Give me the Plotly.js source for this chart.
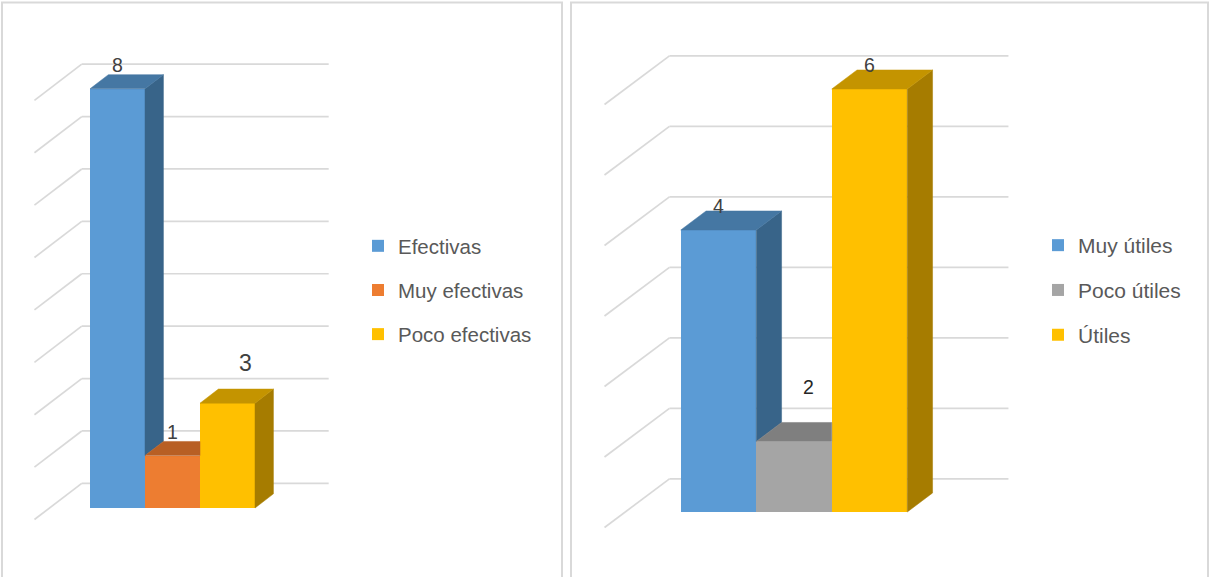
<!DOCTYPE html>
<html>
<head>
<meta charset="utf-8">
<script src="https://cdn.plot.ly/plotly-3.0.1.min.js"></script>
<style>
  html, body { margin: 0; padding: 0; background: #ffffff; }
  #chart { width: 1212px; height: 577px; }
</style>
</head>
<body>
<div id="chart"></div>
<script>
// ---------- data ----------
const leftCategories = ["Efectivas", "Muy efectivas", "Poco efectivas"];
const leftValues = [8, 1, 2];
const leftLabels = ["8", "1", "3"];

const rightCategories = ["Muy útiles", "Poco útiles", "Útiles"];
const rightValues = [4, 1, 6];
const rightLabels = ["4", "2", "6"];

// ---------- styles ----------
const leftColors = {
  front: ["#5B9BD5", "#ED7D31", "#FFC000"],
  top:   ["#4577A3", "#B85F24", "#C49400"],
  side:  ["#386489", "#A0521F", "#A67C00"]
};
const rightColors = {
  front: ["#5B9BD5", "#A5A5A5", "#FFC000"],
  top:   ["#4577A3", "#7F7F7F", "#C49400"],
  side:  ["#386489", "#6E6E6E", "#A67C00"]
};
// label nudges in px [xshift, extra yshift, font size, color]
const leftLabelStyle = [[0, 0, 19.5, "#404040"], [0, 0, 19.5, "#404040"], [18, 16, 23, "#404040"]];
const rightLabelStyle = [[0, 0, 19.5, "#404040"], [14, 31, 19.5, "#262626"], [0, 0, 19.5, "#404040"]];

// 3-D geometry in axis units
const DEPTH = { dx: 0.335, dy: 0.27 };
const WALL = { x0: -0.65, x1: 3.84, dy: 0.47 };
const FLOOR_FRONT = { x: -1.51, dy: -0.22 };

const traces = [];
const shapes = [];
const annotations = [];

function buildChart(cats, vals, labels, colors, labelStyle, xref, yref, legendId) {
  const n = vals.length;
  // front faces (real bars)
  for (let i = 0; i < n; i++) {
    traces.push({
      type: "bar", x: [i], y: [vals[i]], width: [1], name: cats[i],
      marker: { color: colors.front[i], line: { width: 0 } },
      xaxis: xref, yaxis: yref, legend: legendId, legendgroup: legendId + "_" + i,
      hoverinfo: "skip"
    });
  }
  // side and top faces
  for (let i = 0; i < n; i++) {
    const v = vals[i];
    const right = i + 0.5, left = i - 0.5;
    const base = (i + 1 < n) ? vals[i + 1] : 0;
    if (base < v) {
      traces.push({
        type: "scatter", mode: "lines", fill: "toself",
        x: [right, right + DEPTH.dx, right + DEPTH.dx, right, right],
        y: [base, base + DEPTH.dy, v + DEPTH.dy, v, base],
        fillcolor: colors.side[i], line: { color: colors.side[i], width: 0.5 },
        xaxis: xref, yaxis: yref, showlegend: false, hoverinfo: "skip"
      });
    }
    const clip = (i + 1 < n) && vals[i + 1] > v;
    const tx = clip
      ? [left, right, right, left + DEPTH.dx, left]
      : [left, right, right + DEPTH.dx, left + DEPTH.dx, left];
    const ty = [v, v, v + DEPTH.dy, v + DEPTH.dy, v];
    traces.push({
      type: "scatter", mode: "lines", fill: "toself", x: tx, y: ty,
      fillcolor: colors.top[i], line: { color: colors.top[i], width: 0.5 },
      xaxis: xref, yaxis: yref, showlegend: false, hoverinfo: "skip"
    });
    annotations.push({
      xref: xref, yref: yref, x: i, y: v, text: labels[i],
      showarrow: false, xanchor: "center", yanchor: "middle",
      xshift: labelStyle[i][0], yshift: 24 + labelStyle[i][1],
      font: { family: "Liberation Sans, Arial, sans-serif", size: labelStyle[i][2], color: labelStyle[i][3] }
    });
  }
  // back wall gridlines + side wall diagonals
  const maxV = Math.max.apply(null, vals);
  for (let t = 0; t <= maxV; t++) {
    const ln = { color: "#D9D9D9", width: 1.7 };
    shapes.push({ type: "line", xref: xref, yref: yref, layer: "below",
      x0: WALL.x0, x1: WALL.x1, y0: t + WALL.dy, y1: t + WALL.dy, line: ln });
    shapes.push({ type: "line", xref: xref, yref: yref, layer: "below",
      x0: WALL.x0, x1: FLOOR_FRONT.x, y0: t + WALL.dy, y1: t + FLOOR_FRONT.dy, line: ln });
  }
}

buildChart(leftCategories, leftValues, leftLabels, leftColors, leftLabelStyle, "x", "y", "legend");
buildChart(rightCategories, rightValues, rightLabels, rightColors, rightLabelStyle, "x2", "y2", "legend2");

// panel frames
const W = 1212, H = 577;
shapes.push({ type: "rect", xref: "paper", yref: "paper", layer: "below",
  x0: 2 / W, x1: 562 / W, y0: -0.02, y1: 1 - 2.5 / H, line: { color: "#D9D9D9", width: 2 } });
shapes.push({ type: "rect", xref: "paper", yref: "paper", layer: "below",
  x0: 571 / W, x1: 1208 / W, y0: -0.02, y1: 1 - 2.5 / H, line: { color: "#D9D9D9", width: 2 } });

const hidden = { visible: false, fixedrange: true };
const layout = {
  width: W, height: H,
  margin: { l: 0, r: 0, t: 0, b: 0, pad: 0 },
  paper_bgcolor: "#ffffff", plot_bgcolor: "rgba(0,0,0,0)",
  barmode: "overlay", bargap: 0,
  showlegend: true,
  xaxis: Object.assign({ domain: [2 / W, 562 / W], range: [-2.1, 8.082], anchor: "y" }, hidden),
  yaxis: Object.assign({ domain: [0, 1], range: [-69 / 52.4, 508 / 52.4], anchor: "x" }, hidden),
  xaxis2: Object.assign({ domain: [571 / W, 1211 / W], range: [-1.954, 6.523], anchor: "y2" }, hidden),
  yaxis2: Object.assign({ domain: [0, 1], range: [-65 / 70.5, 512 / 70.5], anchor: "x2" }, hidden),
  legend: {
    x: 358 / W, xanchor: "left", y: 1 - 290 / H, yanchor: "middle",
    font: { family: "Liberation Sans, Arial, sans-serif", size: 20.5, color: "#595959" },
    tracegroupgap: 14.5, bgcolor: "rgba(0,0,0,0)", borderwidth: 0
  },
  legend2: {
    x: 1038 / W, xanchor: "left", y: 1 - 290 / H, yanchor: "middle",
    font: { family: "Liberation Sans, Arial, sans-serif", size: 21, color: "#595959" },
    tracegroupgap: 14.5, bgcolor: "rgba(0,0,0,0)", borderwidth: 0
  },
  shapes: shapes,
  annotations: annotations
};

Plotly.newPlot("chart", traces, layout, { displayModeBar: false, staticPlot: true });
</script>
</body>
</html>
